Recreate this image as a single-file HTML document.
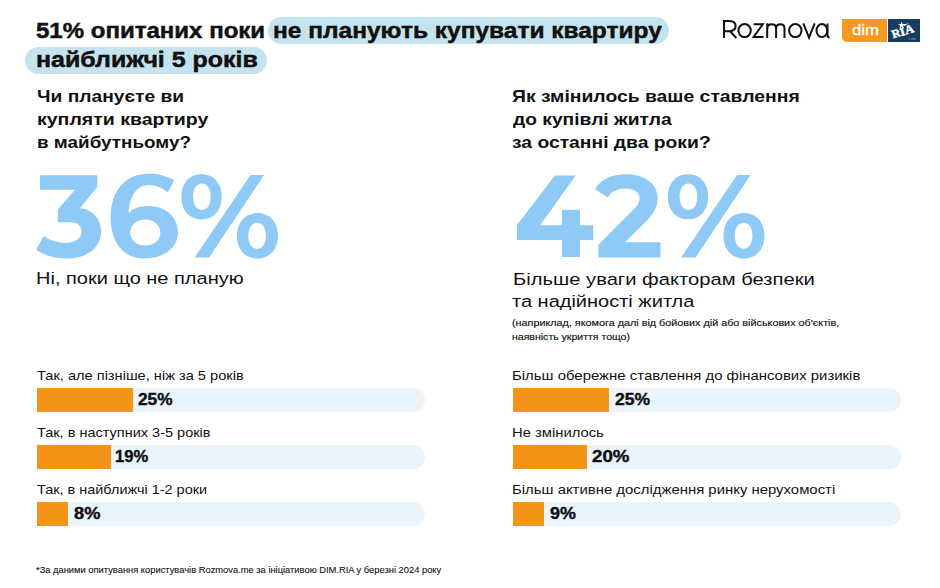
<!DOCTYPE html>
<html><head><meta charset="utf-8">
<style>
html,body{margin:0;padding:0;background:#fff;}
body{width:940px;height:588px;position:relative;overflow:hidden;font-family:"Liberation Sans",sans-serif;color:#111;}
.t{position:absolute;white-space:nowrap;line-height:1;transform-origin:0 0;}
.b{font-weight:bold;}
.pill{position:absolute;background:#c5e3ee;border-radius:14px;}
.track{position:absolute;background:#e9f4fd;height:23.5px;border-radius:0 12px 12px 0;}
.fill{position:absolute;background:#f39419;height:23.5px;}
.big{position:absolute;white-space:nowrap;line-height:1;font-weight:bold;color:#93c9f5;transform-origin:0 0;}
</style></head>
<body>
<div class="pill" style="left:268px;top:17px;width:401px;height:26.7px;"></div>
<div class="pill" style="left:25px;top:47px;width:242px;height:26.7px;"></div>
<svg style="position:absolute;left:0;top:0" width="940" height="60" viewBox="0 0 940 60">
<g fill="none" stroke="#111" stroke-width="2">
<path d="M724,38 V21 H729.3 C733.3,21 735.6,23.1 735.6,26.1 C735.6,29.1 733.3,31.2 729.3,31.2 H724 M729.8,31 L736.3,38"/>
<ellipse cx="744.6" cy="30.6" rx="6.2" ry="6.5"/>
<path d="M753.6,24.3 H762.8 L753.6,36.9 H763.6"/>
<path d="M767.2,23.3 V38 M767.2,29 C767.2,25.5 769.3,24.2 771.7,24.2 C774.4,24.2 776.1,25.8 776.1,28.6 V38 M776.1,28.6 C776.1,25.8 778.1,24.2 780.5,24.2 C783.2,24.2 784.5,25.8 784.5,28.6 V38"/>
<ellipse cx="795.3" cy="30.6" rx="6.2" ry="6.5"/>
<path d="M803.3,23.4 L809,37.5 L814.7,23.4"/>
<ellipse cx="821.9" cy="30.6" rx="5.4" ry="6.5"/>
<path d="M827.5,23.5 V35.3 C827.5,36.9 828.3,37.5 829.6,37.5"/>
</g>
</svg>
<div style="position:absolute;left:842px;top:19px;width:45px;height:23px;background:#f39a1f;border-radius:0 0 0 5px;"></div>
<div style="position:absolute;left:888px;top:19px;width:32px;height:22.7px;background:#163c62;"></div>
<svg style="position:absolute;left:0;top:0" width="940" height="60" viewBox="0 0 940 60">
<g fill="#fff">
<polygon points="901.7,21.6 902.6,24.1 905.3,24.2 903.2,25.8 903.9,28.4 901.7,26.9 899.5,28.4 900.2,25.8 898.1,24.2 900.8,24.1"/>
<path d="M903.5,24.6 L909,23.2 L904.5,25.9 Z"/>
<g stroke="#fff" stroke-width="0.45">
<text x="0" y="0" font-family="Liberation Serif" font-weight="bold" font-size="11.5" transform="translate(893,38.3) rotate(-17) scale(1.05,1)">R</text>
<text x="0" y="0" font-family="Liberation Serif" font-weight="bold" font-size="11" transform="translate(901.3,35.9) rotate(-17) scale(1.1,1)">I</text>
<text x="0" y="0" font-family="Liberation Serif" font-weight="bold" font-size="12" transform="translate(906,34.4) rotate(-17) scale(1.05,1)">A</text>
</g>
<text x="908.7" y="40" font-family="Liberation Sans" font-size="3.2" fill="#9fb3c8">.com</text>
</g>
</svg>

<div class="track" style="left:37px;top:388px;width:388px;"></div>
<div class="fill" style="left:37px;top:388px;width:96px;"></div>
<div class="track" style="left:37px;top:445px;width:388px;"></div>
<div class="fill" style="left:37px;top:445px;width:74.4px;"></div>
<div class="track" style="left:37px;top:502px;width:388px;"></div>
<div class="fill" style="left:37px;top:502px;width:31px;"></div>

<div class="track" style="left:513px;top:388px;width:388px;"></div>
<div class="fill" style="left:513px;top:388px;width:96.3px;"></div>
<div class="track" style="left:513px;top:445px;width:388px;"></div>
<div class="fill" style="left:513px;top:445px;width:74.3px;"></div>
<div class="track" style="left:513px;top:502px;width:388px;"></div>
<div class="fill" style="left:513px;top:502px;width:31px;"></div>
<svg style="position:absolute;left:0;top:0" width="940" height="588" viewBox="0 0 940 588">
<g fill="#8fc9f5" fill-rule="evenodd">
<path d="M40,175.2 H97.3 V186.8 L80,208.2 C93,209.5 101.1,219 101.1,231.6 C101.1,247 88,258.5 66.8,258.5 C54,258.5 43,255 36.2,249.6 L43.6,235.9 C50,240.5 57.5,242.7 66.8,242.7 C76,242.7 81.6,238 81.6,231.6 C81.6,225.5 77,222.2 71,222.2 H57.8 V209.5 L75.1,189.8 H40 Z"/>
<path d="M174.3,180.2 C166,175.5 158,173.7 149,173.7 C125,173.7 110.6,191 110.6,217 C110.6,243 124,258.6 144,258.6 C163,258.6 178,248 178,232.5 C178,216 165,205.9 147.3,205.9 C139,205.9 132,209 128.6,213 C129.5,196 137,185.1 149,185.1 C156,185.1 162,188 167.8,192.5 Z M145.3,219.4 C136.5,219.4 130.2,225 130.2,232.5 C130.2,240 136.5,245.6 145.3,245.6 C154.1,245.6 160.4,240 160.4,232.5 C160.4,225 154.1,219.4 145.3,219.4 Z"/>
<g id="pct">
<path d="M201.5,174.20000000000002 C213.59,174.20000000000002 221.65,183.24 221.65,196.8 C221.65,210.36 213.59,219.4 201.5,219.4 C189.41,219.4 181.35,210.36 181.35,196.8 C181.35,183.24 189.41,174.20000000000002 201.5,174.20000000000002 Z"/>
<path d="M257.4,213.10000000000002 C269.70,213.10000000000002 277.9,222.18 277.9,235.8 C277.9,249.42 269.70,258.5 257.4,258.5 C245.10,258.5 236.89999999999998,249.42 236.89999999999998,235.8 C236.89999999999998,222.18 245.10,213.10000000000002 257.4,213.10000000000002 Z"/>
<path d="M250.5,175 H264.1 L209.1,257.4 H194.7 Z"/>
</g>
<path d="M554.9,175.4 H575.7 L540.2,225.2 H561.9 V209.7 H579.9 V225.2 H593.3 V239.9 H579.9 V257 H561.9 V239.9 H516.9 V225.2 Z"/>
<path d="M595.1,188.9 C601,179 612,174.2 625.8,174.2 C645,174.2 657.7,184 657.7,198 C657.7,207 653.5,214 645,222.5 L625,242.3 H660.5 V257.5 H598.4 V244.8 L632.5,210.5 C637.5,205.5 639.7,202 639.7,198 C639.7,192 634,188.4 625.5,188.4 C617.5,188.4 611,191.5 607.9,197.4 Z"/>
<g transform="translate(486.5,0)">
<path d="M201.5,174.20000000000002 C213.59,174.20000000000002 221.65,183.24 221.65,196.8 C221.65,210.36 213.59,219.4 201.5,219.4 C189.41,219.4 181.35,210.36 181.35,196.8 C181.35,183.24 189.41,174.20000000000002 201.5,174.20000000000002 Z"/>
<path d="M257.4,213.10000000000002 C269.70,213.10000000000002 277.9,222.18 277.9,235.8 C277.9,249.42 269.70,258.5 257.4,258.5 C245.10,258.5 236.89999999999998,249.42 236.89999999999998,235.8 C236.89999999999998,222.18 245.10,213.10000000000002 257.4,213.10000000000002 Z"/>
<path d="M250.5,175 H264.1 L209.1,257.4 H194.7 Z"/>
</g>
</g>
<g fill="#fff">
<path d="M201.9,183.5 C207.18,183.5 210.70000000000002,188.82 210.70000000000002,196.8 C210.70000000000002,204.78 207.18,210.10000000000002 201.9,210.10000000000002 C196.62,210.10000000000002 193.1,204.78 193.1,196.8 C193.1,188.82 196.62,183.5 201.9,183.5 Z"/>
<path d="M257.1,222.8 C262.38,222.8 265.90000000000003,228.00 265.90000000000003,235.8 C265.90000000000003,243.60 262.38,248.8 257.1,248.8 C251.82,248.8 248.3,243.60 248.3,235.8 C248.3,228.00 251.82,222.8 257.1,222.8 Z"/>
<g transform="translate(486.5,0)">
<path d="M201.9,183.5 C207.18,183.5 210.70000000000002,188.82 210.70000000000002,196.8 C210.70000000000002,204.78 207.18,210.10000000000002 201.9,210.10000000000002 C196.62,210.10000000000002 193.1,204.78 193.1,196.8 C193.1,188.82 196.62,183.5 201.9,183.5 Z"/>
<path d="M257.1,222.8 C262.38,222.8 265.90000000000003,228.00 265.90000000000003,235.8 C265.90000000000003,243.60 262.38,248.8 257.1,248.8 C251.82,248.8 248.3,243.60 248.3,235.8 C248.3,228.00 251.82,222.8 257.1,222.8 Z"/>
</g>
</g>
</svg>

<div class="t b" id="t1a" style="left:36.10px;top:19.90px;font-size:21.8px;transform:scaleX(1.1021);-webkit-text-stroke:0.45px #0d0d0d;">51% опитаних поки</div>
<div class="t b" id="t1b" style="left:272.75px;top:19.90px;font-size:21.8px;transform:scaleX(1.1236);-webkit-text-stroke:0.45px #0d0d0d;">не планують купувати квартиру</div>
<div class="t b" id="t2" style="left:35.70px;top:48.90px;font-size:21.8px;transform:scaleX(1.1452);-webkit-text-stroke:0.45px #0d0d0d;">найближчі 5 років</div>
<div class="t b" id="q1" style="left:36.81px;top:87.81px;font-size:16.2px;transform:scaleX(1.1869);">Чи плануєте ви</div>
<div class="t b" id="q2" style="left:36.79px;top:110.71px;font-size:16.2px;transform:scaleX(1.2057);">купляти квартиру</div>
<div class="t b" id="q3" style="left:36.83px;top:133.61px;font-size:16.2px;transform:scaleX(1.1662);">в майбутньому?</div>
<div class="t b" id="r1" style="left:511.68px;top:87.81px;font-size:16.2px;transform:scaleX(1.1950);">Як змінилось ваше ставлення</div>
<div class="t b" id="r2" style="left:512.88px;top:110.71px;font-size:16.2px;transform:scaleX(1.1881);">до купівлі житла</div>
<div class="t b" id="r3" style="left:511.69px;top:133.61px;font-size:16.2px;transform:scaleX(1.1916);">за останні два роки?</div>
<div class="t" id="s1" style="left:36.20px;top:269.80px;font-size:17.4px;transform:scaleX(1.1498);">Ні, поки що не планую</div>
<div class="t" id="s2" style="left:512.76px;top:270.61px;font-size:17.4px;transform:scaleX(1.1605);">Більше уваги факторам безпеки</div>
<div class="t" id="s3" style="left:511.72px;top:293.30px;font-size:17.4px;transform:scaleX(1.1496);">та надійності житла</div>
<div class="t" id="n1" style="left:511.83px;top:319.11px;font-size:9.3px;transform:scaleX(1.1608);-webkit-text-stroke:0.15px #111;">(наприклад, якомога далі від бойових дій або військових об'єктів,</div>
<div class="t" id="n2" style="left:511.86px;top:333.20px;font-size:9.3px;transform:scaleX(1.1323);-webkit-text-stroke:0.15px #111;">наявність укриття тощо)</div>
<div class="t" id="l1" style="left:37.00px;top:368.60px;font-size:13.2px;transform:scaleX(1.1075);">Так, але пізніше, ніж за 5 років</div>
<div class="t b" id="p1" style="left:137.89px;top:391.60px;font-size:16.6px;transform:scaleX(1.0412);-webkit-text-stroke:0.4px #0d0d0d;">25%</div>
<div class="t" id="l2" style="left:37.00px;top:425.60px;font-size:13.2px;transform:scaleX(1.1000);">Так, в наступних 3-5 років</div>
<div class="t b" id="p2" style="left:115.00px;top:448.60px;font-size:16.6px;transform:scaleX(1.0000);-webkit-text-stroke:0.4px #0d0d0d;">19%</div>
<div class="t" id="l3" style="left:37.00px;top:482.60px;font-size:13.2px;transform:scaleX(1.0955);">Так, в найближчі 1-2 роки</div>
<div class="t b" id="p3" style="left:73.85px;top:505.60px;font-size:16.6px;transform:scaleX(1.0997);-webkit-text-stroke:0.4px #0d0d0d;">8%</div>
<div class="t" id="m1" style="left:511.87px;top:368.60px;font-size:13.2px;transform:scaleX(1.1313);">Більш обережне ставлення до фінансових ризиків</div>
<div class="t b" id="o1" style="left:614.93px;top:391.60px;font-size:16.6px;transform:scaleX(1.0580);-webkit-text-stroke:0.4px #0d0d0d;">25%</div>
<div class="t" id="m2" style="left:511.88px;top:425.60px;font-size:13.2px;transform:scaleX(1.1211);">Не змінилось</div>
<div class="t b" id="o2" style="left:591.84px;top:448.60px;font-size:16.6px;transform:scaleX(1.1300);-webkit-text-stroke:0.4px #0d0d0d;">20%</div>
<div class="t" id="m3" style="left:511.87px;top:482.60px;font-size:13.2px;transform:scaleX(1.1298);">Більш активне дослідження ринку нерухомості</div>
<div class="t b" id="o3" style="left:550.36px;top:505.60px;font-size:16.6px;transform:scaleX(1.0777);-webkit-text-stroke:0.4px #0d0d0d;">9%</div>
<div class="t" id="ft" style="left:35.80px;top:565.50px;font-size:9.3px;transform:scaleX(1.0045);-webkit-text-stroke:0.1px #111;">*За даними опитування користувачів Rozmova.me за ініціативою DIM.RIA у березні 2024 року</div>
<div class="t" id="dm" style="left:851.50px;top:21.50px;font-size:15.5px;transform:scaleX(1.0832);color:#fff;-webkit-text-stroke:0.3px #fff;">dim</div>
</body></html>
